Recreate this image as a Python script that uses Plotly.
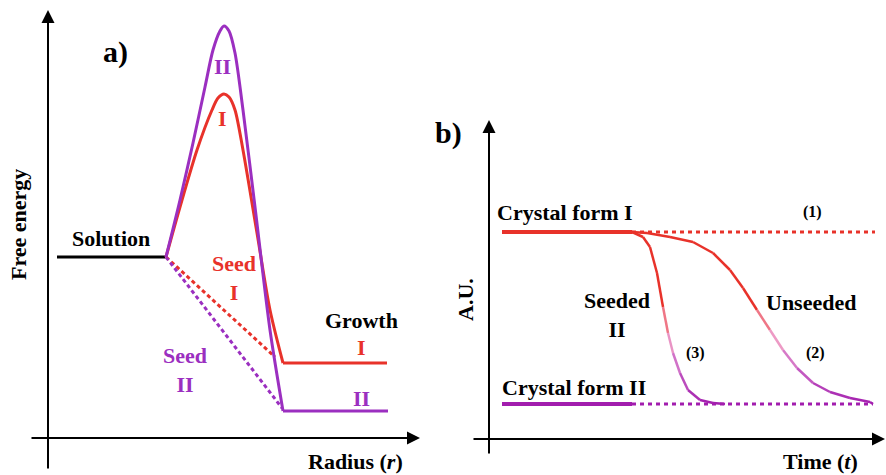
import plotly.graph_objects as go

# ---------------- data (arbitrary units) ----------------
# Panel a: free energy vs radius
sol_x = [9, 117]
sol_y = [181, 181]
peak2_x = [118, 132, 145, 157, 165, 172, 176, 181, 187, 195, 207, 222, 235]
peak2_y = [181, 238, 295, 351, 388, 407, 412, 407, 385, 328, 231, 108, 27]
peak1_x = [118, 132, 149, 164, 170, 176, 181, 187, 195, 209, 222, 235]
peak1_y = [181, 231, 288, 328, 340, 344, 341, 328, 288, 205, 128, 75]
grow1_x = [235, 339]
grow1_y = [75, 75]
grow2_x = [235, 340]
grow2_y = [27, 27]
seed1_x = [118, 227]
seed1_y = [181, 81]
seed2_x = [118, 234]
seed2_y = [181, 30]

# Panel b: A.U. vs time
form1_solid_x = [13, 143]
form1_dot_x = [143, 386]
form1_y = 207
form2_solid_x = [13, 143]
form2_dot_x = [143, 384]
form2_y = 35
c3_x = [143, 154, 161, 168, 174, 179, 184, 191, 199, 211, 224, 236]
c3_y = [207, 202, 192, 166, 132, 106, 86, 66, 49, 39, 36, 35]
c2_x = [143, 158, 181, 204, 224, 241, 254, 268, 281, 294, 308, 324, 341, 361, 381, 384]
c2_y = [207, 206, 202, 197, 186, 169, 151, 129, 109, 89, 71, 56, 47, 41, 37, 35]

RED = "#E8322A"
PURPLE = "#9B2FC0"
MAG = "#A21DAE"
PINK = "#F4A4C4"
FONT = "Liberation Serif, Times New Roman, DejaVu Serif, serif"


def hex2rgb(h):
    h = h.lstrip("#")
    return [int(h[i:i + 2], 16) for i in (0, 2, 4)]


def grad_color(y):
    stops = [(35, MAG), (75, "#D070C8"), (105, PINK), (140, RED), (300, RED)]
    for (y0, c0), (y1, c1) in zip(stops[:-1], stops[1:]):
        if y0 <= y <= y1:
            t = (y - y0) / (y1 - y0)
            a, b = hex2rgb(c0), hex2rgb(c1)
            return "rgb(%d,%d,%d)" % tuple(round(a[i] + (b[i] - a[i]) * t) for i in range(3))
    return MAG if y < 35 else RED


fig = go.Figure()


def line(x, y, color, width=3, dash=None, shape="linear", xa="x", ya="y"):
    fig.add_trace(go.Scatter(x=x, y=y, mode="lines", xaxis=xa, yaxis=ya,
                             line=dict(color=color, width=width, dash=dash, shape=shape, smoothing=0.8),
                             hoverinfo="skip", showlegend=False))


# panel a
line(sol_x, sol_y, "black", 3)
line(seed1_x, seed1_y, RED, 3, "4px,3px")
line(seed2_x, seed2_y, PURPLE, 3, "4px,3px")
line(peak1_x, peak1_y, RED, 3, shape="spline")
line(peak2_x, peak2_y, PURPLE, 3, shape="spline")
line(grow1_x, grow1_y, RED, 3)
line(grow2_x, grow2_y, PURPLE, 3)

# panel b
line(form1_solid_x, [form1_y] * 2, RED, 4, xa="x2", ya="y2")
line(form1_dot_x, [form1_y] * 2, RED, 3, "4px,4px", xa="x2", ya="y2")
line(form2_solid_x, [form2_y] * 2, MAG, 4, xa="x2", ya="y2")
line(form2_dot_x, [form2_y] * 2, MAG, 3, "4px,4px", xa="x2", ya="y2")
for cx, cy in ((c3_x, c3_y), (c2_x, c2_y)):
    for i in range(len(cx) - 1):
        col = grad_color((cy[i] + cy[i + 1]) / 2)
        line(cx[i:i + 2], cy[i:i + 2], col, 2.5, xa="x2", ya="y2")

ann = []


def arrow(x0, y0, x1, y1, xr, yr):
    ann.append(dict(x=x1, y=y1, ax=x0, ay=y0, xref=xr, yref=yr, axref=xr, ayref=yr,
                    text="", showarrow=True, arrowhead=2, arrowsize=1.3, arrowwidth=2,
                    arrowcolor="black"))


def label(x, y, text, color="black", size=22, xr="x", yr="y", angle=0):
    ann.append(dict(x=x, y=y, xref=xr, yref=yr, text="<b>%s</b>" % text, showarrow=False,
                    textangle=angle, font=dict(family=FONT, size=size, color=color),
                    xanchor="center", yanchor="middle"))


# axes panel a
arrow(0, -32, 0, 428, "x", "y")
arrow(-18, 0, 372, 0, "x", "y")
# axes panel b
arrow(0, -16, 0, 319, "x2", "y2")
arrow(-17, 0, 396, 0, "x2", "y2")

label(67, 386, "a)", size=30)
label(174, 372, "II", PURPLE)
label(174, 320, "I", RED)
label(63, 200, "Solution")
label(186, 160, "Seed<br>I", RED)
label(313, 118, "Growth")
label(313, 91, "I", RED)
label(313, 40, "II", PURPLE)
label(137, 68, "Seed<br>II", PURPLE)
label(-30, 213, "Free energy", angle=-90)
label(307, -23, "Radius (<i>r</i>)")

label(-41, 306, "b)", size=30, xr="x2", yr="y2")
label(-24, 139, "A.U.", angle=-90, xr="x2", yr="y2")
label(331, -22, "Time (<i>t</i>)", xr="x2", yr="y2")
label(76, 227, "Crystal form I", xr="x2", yr="y2")
label(323, 227, "(1)", size=16, xr="x2", yr="y2")
label(128, 124, "Seeded<br>II", xr="x2", yr="y2")
label(322, 137, "Unseeded", xr="x2", yr="y2")
label(206, 86, "(3)", size=16, xr="x2", yr="y2")
label(326, 86, "(2)", size=16, xr="x2", yr="y2")
label(85, 52, "Crystal form II", xr="x2", yr="y2")

hid = dict(visible=False, fixedrange=True)
fig.update_layout(
    width=886, height=475, autosize=False,
    margin=dict(l=0, r=0, t=0, b=0),
    paper_bgcolor="white", plot_bgcolor="white",
    font=dict(family=FONT),
    xaxis=dict(domain=[0, 0.5], range=[-48, 395], **hid),
    yaxis=dict(domain=[0, 1], range=[-37, 438], **hid),
    xaxis2=dict(domain=[0.5, 1], range=[-46, 397], anchor="y2", **hid),
    yaxis2=dict(domain=[0, 1], range=[-36, 439], anchor="x2", **hid),
    annotations=ann,
)

fig.write_html("out.html")
